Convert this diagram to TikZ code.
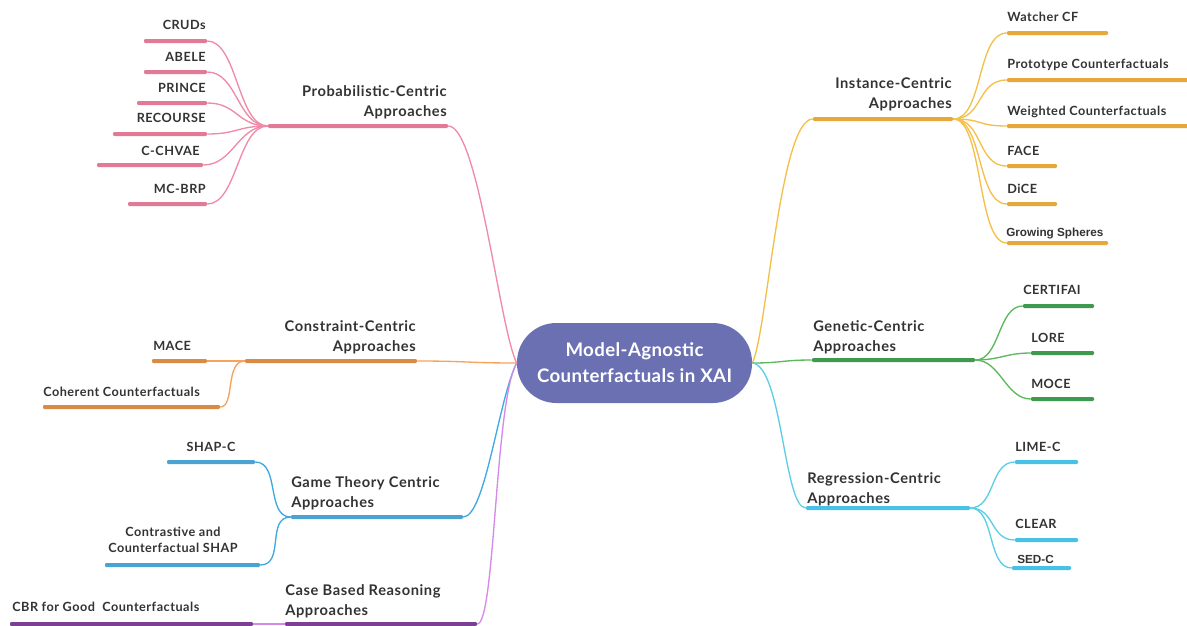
\documentclass[tikz,border=0pt]{standalone}
\usepackage{fontspec}
\setmainfont{Lato}
\newfontfamily\labelfont[LetterSpace=4]{Lato}
\newfontfamily\corefont[LetterSpace=2]{Lato}
\newfontfamily\arialfont{Liberation Sans}

% branch colours: thin links and thick topic bars
\definecolor{inkgray}{HTML}{333333}
\definecolor{corefill}{HTML}{6B70B2}
\definecolor{pinkln}{HTML}{F08AA8}\definecolor{pinkbar}{HTML}{E37A95}
\definecolor{orgln}{HTML}{F7A35C}\definecolor{orgbar}{HTML}{D98A45}
\definecolor{ylwln}{HTML}{F5C04A}\definecolor{ylwbar}{HTML}{E6A83A}
\definecolor{grnln}{HTML}{5CB85C}\definecolor{grnbar}{HTML}{3F9A4F}
\definecolor{cyanln}{HTML}{5CCFE6}\definecolor{cyanbar}{HTML}{47C1E6}
\definecolor{blueln}{HTML}{3FA9E0}\definecolor{bluebar}{HTML}{4BA3D1}
\definecolor{purpln}{HTML}{D68AE8}\definecolor{purpbar}{HTML}{7D3F93}

% \mkbar{name}{x left}{x right}{y}{colour}
\newcommand\mkbar[5]{\node[barnode, fill=#5, minimum width={(#3-#2)*0.75pt}] (#1) at ({(#2+#3)/2},#4) {};}

\tikzset{
  barnode/.style={draw=none, inner sep=0pt, minimum height=3pt, rounded corners=0.8pt},
  link/.style={draw=#1, line width=1pt},
  topic/.style={inner sep=0pt, text=inkgray, font=\labelfont\bfseries\fontsize{11}{15}\selectfont, text depth=0pt},
  leaf/.style={inner sep=0pt, text=inkgray, font=\labelfont\bfseries\fontsize{9.5}{12}\selectfont},
  leafarial/.style={inner sep=0pt, text=inkgray, font=\arialfont\bfseries\fontsize{8.8}{10}\selectfont},
  corebox/.style={fill=corefill, draw=none, text=white, align=center,
    minimum width=176.25pt, minimum height=60pt, rounded corners=29.5pt,
    inner sep=0pt, font=\corefont\bfseries\fontsize{14}{19.5}\selectfont},
}

\begin{document}
\begin{tikzpicture}[x=0.75pt, y=-0.75pt]
\useasboundingbox[fill=white] (0,0) rectangle (1187,625);

% central topic
\node[corebox] (core) at (634.5,363) {Model-Agnostic\\Counterfactuals in XAI};

% ---------- Probabilistic-Centric ----------
\mkbar{pmain}{268}{448}{126}{pinkbar}
\mkbar{cruds}{144}{207}{41}{pinkbar}
\mkbar{abele}{144}{207}{72}{pinkbar}
\mkbar{prince}{137}{207}{103}{pinkbar}
\mkbar{recourse}{113}{207}{134}{pinkbar}
\mkbar{cchvae}{97}{203}{165}{pinkbar}
\mkbar{mcbrp}{128}{207}{204}{pinkbar}
\node[topic, anchor=south east, align=right] (ptext) at (447,117) {Probabilistic-Centric\\Approaches};
\node[leaf, anchor=base east] (cts) at (206,29) {CRUDs};
\node[leaf, anchor=base east] (abt) at (206,61) {ABELE};
\node[leaf, anchor=base east] (prt) at (206,92) {PRINCE};
\node[leaf, anchor=base east] (ret) at (206,122) {RECOURSE};
\node[leaf, anchor=base east] (cct) at (200,155) {C-CHVAE};
\node[leaf, anchor=base east] (mct) at (206,193) {MC-BRP};
\foreach \c in {cruds,abele,prince,recourse,cchvae,mcbrp}
  \draw[link=pinkln] (pmain.west) .. controls +(-30,0) and +(30,0) .. (\c.east);
\draw[link=pinkln] (pmain.east) .. controls +(30,0) and +(-17,-33) .. (core.west);

% ---------- Constraint-Centric ----------
\mkbar{cmain}{245}{417}{361}{orgbar}
\mkbar{mace}{152}{207}{361}{orgbar}
\mkbar{coherent}{43}{220}{407}{orgbar}
\node[topic, anchor=south east, align=right] (ctext) at (416,352) {Constraint-Centric\\Approaches};
\node[leaf, anchor=base west] (mat) at (153,350) {MACE};
\node[leaf, anchor=base west] (cot) at (43,396) {Coherent Counterfactuals};
\draw[link=orgln] (cmain.west) -- (mace.east);
\draw[link=orgln] (cmain.west) .. controls +(-20,0) and +(15,0) .. (coherent.east);
\draw[link=orgln] (cmain.east) .. controls +(50,0) and +(-50,0) .. (core.west);

% ---------- Game Theory Centric ----------
\mkbar{gmain}{291}{463}{517}{bluebar}
\mkbar{shapc}{167}{255}{462}{bluebar}
\mkbar{contrast}{105}{260}{565}{bluebar}
\node[topic, anchor=south west, align=left] (gtext) at (291,508) {Game Theory Centric\\Approaches};
\node[leaf, anchor=base] (sht) at (211,451) {SHAP-C};
\node[leaf, anchor=south, align=center, text depth=0pt] (cst) at (173,553) {Contrastive and\\Counterfactual SHAP};
\draw[link=blueln] (gmain.west) .. controls +(-25,0) and +(25,0) .. (shapc.east);
\draw[link=blueln] (gmain.west) .. controls +(-25,0) and +(25,0) .. (contrast.east);
\draw[link=blueln] (gmain.east) .. controls +(22,0) and +(-18,35) .. (core.west);

% ---------- Case Based Reasoning ----------
\mkbar{cbrmain}{285}{477}{624}{purpbar}
\mkbar{cbrgood}{10}{253}{624}{purpbar}
\node[topic, anchor=south west, align=left] (cbtext) at (285,616) {Case Based Reasoning\\Approaches};
\node[leaf, anchor=base west] (cgt) at (12,611) {CBR for Good\ \ Counterfactuals};
\draw[link=purpln] (cbrmain.west) -- (cbrgood.east);
\draw[link=purpln] (cbrmain.east) .. controls +(18,0) and +(-22,37) .. (core.west);

% ---------- Instance-Centric ----------
\mkbar{imain}{813}{953}{119}{ylwbar}
\mkbar{watcher}{1007}{1108}{33}{ylwbar}
\mkbar{proto}{1007}{1190}{80}{ylwbar}
\mkbar{weighted}{1007}{1190}{126}{ylwbar}
\mkbar{face}{1007}{1057}{166}{ylwbar}
\mkbar{dice}{1007}{1057}{204}{ylwbar}
\mkbar{growing}{1007}{1108}{243}{ylwbar}
\node[topic, anchor=south east, align=right] (itext) at (952,109) {Instance-Centric\\Approaches};
\node[leaf, anchor=base west] (wct) at (1007,21) {Watcher CF};
\node[leaf, anchor=base west] (ptt) at (1007,68) {Prototype Counterfactuals};
\node[leaf, anchor=base west] (wtt) at (1007,115) {Weighted Counterfactuals};
\node[leaf, anchor=base west] (fat) at (1007,155) {FACE};
\node[leaf, anchor=base west] (dct) at (1007,193) {DiCE};
\node[leafarial, anchor=base west] (gst) at (1006,236) {Growing Spheres};
\foreach \c in {watcher,proto,weighted,face,dice,growing}
  \draw[link=ylwln] (imain.east) .. controls +(30,0) and +(-30,0) .. (\c.west);
\draw[link=ylwln] (core.east) .. controls +(15,-30) and +(-33,0) .. (imain.west);

% ---------- Genetic-Centric ----------
\mkbar{gemain}{812}{975}{360}{grnbar}
\mkbar{certifai}{1023}{1094}{306}{grnbar}
\mkbar{lore}{1031}{1094}{353}{grnbar}
\mkbar{moce}{1031}{1094}{399}{grnbar}
\node[topic, anchor=south west, align=left] (getext) at (813,352) {Genetic-Centric\\Approaches};
\node[leaf, anchor=base west] (cet) at (1023,294) {CERTIFAI};
\node[leaf, anchor=base west] (lot) at (1031,342) {LORE};
\node[leaf, anchor=base west] (mot) at (1031,388) {MOCE};
\foreach \c in {certifai,lore,moce}
  \draw[link=grnln] (gemain.east) .. controls +(25,0) and +(-25,0) .. (\c.west);
\draw[link=grnln] (core.east) .. controls +(30,0) and +(-30,0) .. (gemain.west);

% ---------- Regression-Centric ----------
\mkbar{rmain}{806}{970}{508}{cyanbar}
\mkbar{limec}{1015}{1078}{462}{cyanbar}
\mkbar{clear}{1015}{1078}{540}{cyanbar}
\mkbar{sedc}{1012}{1071}{568}{cyanbar}
\node[topic, anchor=south west, align=left] (rtext) at (807,504) {Regression-Centric\\Approaches};
\node[leaf, anchor=base west] (lmt) at (1015,451) {LIME-C};
\node[leaf, anchor=base west] (clt) at (1015,528) {CLEAR};
\node[leafarial, anchor=base west] (sdt) at (1017,563) {SED-C};
\foreach \c in {limec,clear,sedc}
  \draw[link=cyanln] (rmain.east) .. controls +(25,0) and +(-25,0) .. (\c.west);
\draw[link=cyanln] (core.east) .. controls +(30,3) and +(-22,0) .. (rmain.west);

\end{tikzpicture}
\end{document}
